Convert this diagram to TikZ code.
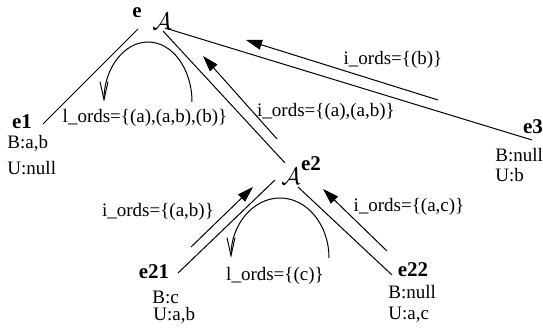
\documentclass[tikz,border=0pt]{standalone}
\usepackage{amsmath,amssymb}
\usepackage{fontspec}
\setmainfont{Liberation Serif}
\usepackage{tikz}
\usetikzlibrary{arrows.meta, positioning}

\begin{document}
\begin{tikzpicture}[
      x=0.5pt, y=-0.5pt,
      line width=0.5pt,
      txt/.style={inner sep=0pt, font=\fontsize{9.5}{11}\selectfont},
      attr/.style={txt, anchor=west},
      tag/.style={inner sep=0pt, font=\fontsize{10.5}{12}\selectfont\bfseries},
      agent/.style={inner sep=0pt, font=\fontsize{13}{14}\selectfont},
      iarr/.style={-{Triangle[length=8pt, width=5pt]}},
      larr/.style={-{Straight Barb[length=9pt, width=4pt]}}]
    \useasboundingbox (0,0) rectangle (543,335);
    % agents
    \node[tag] (e) at (137,13) {e};
    \node[agent] (root) at (162,21) {$\mathcal{A}$};
    \node[agent] (mid) at (291,176) {$\mathcal{A}$};
    \node[tag] (e2) at (311,164) {e2};
    % leaves
    \node[tag] (e1) at (22,122) {e1};
    \node[attr] (e1b) at (7,143) {B:a,b};
    \node[attr] (e1u) at (7,168) {U:null};
    \node[tag] (e3) at (533,127) {e3};
    \node[attr] (e3b) at (495,155) {B:null};
    \node[attr] (e3u) at (495,175) {U:b};
    \node[tag] (e21) at (154,272) {e21};
    \node[attr] (e21b) at (152,297) {B:c};
    \node[attr] (e21u) at (153,315) {U:a,b};
    \node[tag] (e22) at (413,270) {e22};
    \node[attr] (e22b) at (388,292) {B:null};
    \node[attr] (e22u) at (388,315) {U:a,c};
    % edge ends
    \coordinate (eS) at (138,29);
    \coordinate (rootS) at (163,31);
    \coordinate (rootE) at (165,28);
    \coordinate (e1E) at (43,124);
    \coordinate (e3W) at (532,140);
    \coordinate (midN) at (285,163);
    \coordinate (midSW) at (275,180);
    \coordinate (midSE) at (298,187);
    \coordinate (e21E) at (178,273);
    \coordinate (e22W) at (392,275);
    \draw (eS) -- (e1E);
    \draw (rootS) -- (midN);
    \draw (rootE) -- (e3W);
    \draw (midSW) -- (e21E);
    \draw (midSE) -- (e22W);
    % messages
    \coordinate (a1) at (277,139); \coordinate (a2) at (203,56);
    \coordinate (b1) at (438,100); \coordinate (b2) at (246,40);
    \coordinate (c1) at (191,247); \coordinate (c2) at (253,187);
    \coordinate (d1) at (387,251); \coordinate (d2) at (323,189);
    \draw[iarr] (a1) -- (a2);
    \draw[iarr] (b1) -- (b2);
    \draw[iarr] (c1) -- (c2);
    \draw[iarr] (d1) -- (d2);
    \node[txt] (ia) at (326,112) {i\_ords=\{(a),(a,b)\}};
    \node[txt] (ib) at (393,60) {i\_ords=\{(b)\}};
    \node[txt] (ic) at (158,212) {i\_ords=\{(a,b)\}};
    \node[txt] (id) at (409,207) {i\_ords=\{(a,c)\}};
    % local loops
    \draw[larr] (192,102) arc[start angle=0, end angle=-180, x radius=44, y radius=60];
    \draw[larr] (329,258) arc[start angle=0, end angle=-180, x radius=49, y radius=60];
    \node[txt] (la) at (145,118) {l\_ords=\{(a),(a,b),(b)\}};
    \node[txt] (lb) at (275,276) {l\_ords=\{(c)\}};
  \end{tikzpicture}
\end{document}
